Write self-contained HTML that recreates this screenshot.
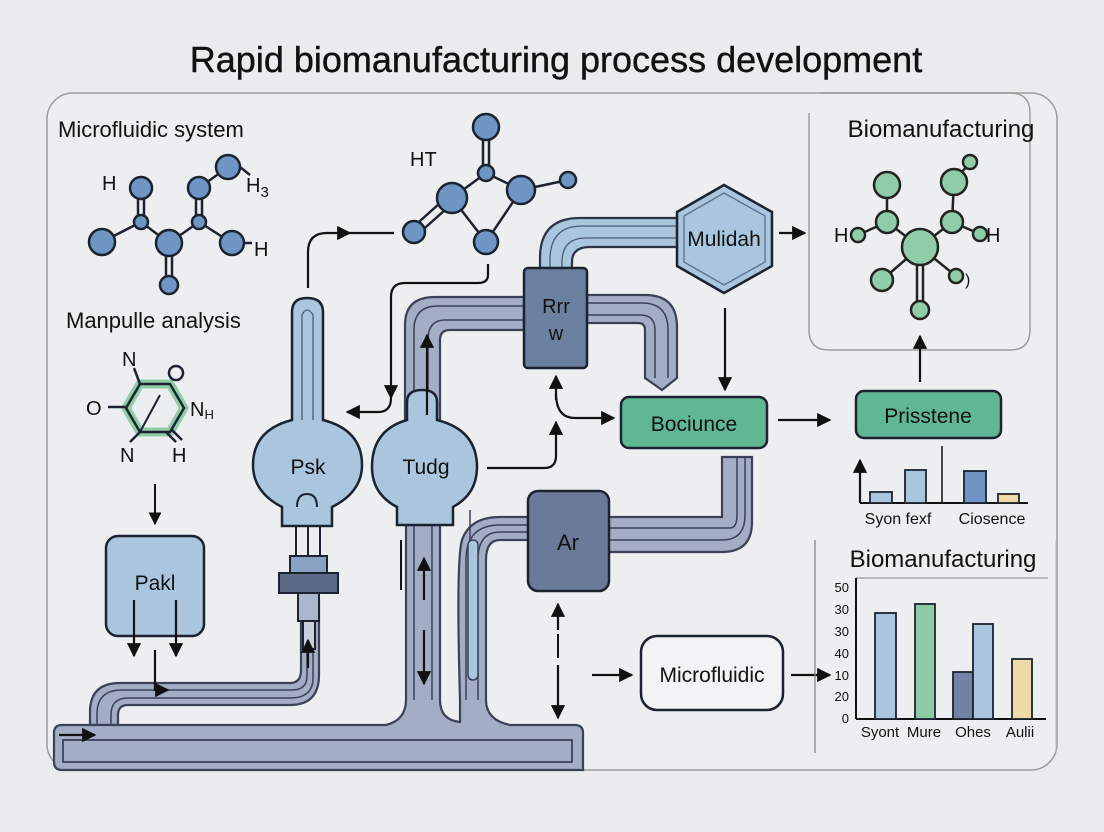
<!DOCTYPE html>
<html><head><meta charset="utf-8"><style>
html,body{margin:0;padding:0;background:#e9ebed;}
svg{display:block;font-family:"Liberation Sans",sans-serif;}
</style></head><body>
<svg width="1104" height="832" viewBox="0 0 1104 832" xmlns="http://www.w3.org/2000/svg">
<defs>
<marker id="ah" viewBox="0 0 10 10" refX="9" refY="5" markerWidth="6.5" markerHeight="6.5" orient="auto"><path d="M0,0 L10,5 L0,10 z" fill="#111"/></marker>
</defs>
<rect width="1104" height="832" fill="#e9ebed"/>
<text x="556" y="72" text-anchor="middle" font-size="36" fill="#111" stroke="#111" stroke-width="0.4">Rapid biomanufacturing process development</text>
<rect x="47" y="93" width="1010" height="677" rx="26" fill="#eceeef" stroke="#9c9c9c" stroke-width="1.5"/>

<!-- right top box -->
<path d="M809,113 V330 Q809,350 829,350 H1010 Q1030,350 1030,330 V113 Q1030,93 1010,93 H820" fill="none" stroke="#9c9c9c" stroke-width="1.5"/>
<text x="941" y="137" text-anchor="middle" font-size="24" fill="#111">Biomanufacturing</text>
<g stroke="#222" stroke-width="2.5">
<line x1="920" y1="247" x2="887" y2="222"/><line x1="920" y1="247" x2="952" y2="222"/>
<line x1="887" y1="222" x2="887" y2="185"/><line x1="952" y1="222" x2="954" y2="182"/>
<line x1="954" y1="182" x2="970" y2="162"/><line x1="887" y1="222" x2="858" y2="235"/>
<line x1="952" y1="222" x2="980" y2="234"/><line x1="920" y1="247" x2="882" y2="280"/>
<line x1="920" y1="247" x2="956" y2="276"/><line x1="917" y1="247" x2="917" y2="310"/><line x1="923" y1="247" x2="923" y2="310"/>
</g>
<g fill="#8fcda9" stroke="#222" stroke-width="2.5">
<circle cx="887" cy="185" r="13"/><circle cx="954" cy="182" r="13"/><circle cx="970" cy="162" r="7"/>
<circle cx="887" cy="222" r="11"/><circle cx="952" cy="222" r="11"/><circle cx="858" cy="235" r="7"/>
<circle cx="980" cy="234" r="7"/><circle cx="882" cy="280" r="11"/><circle cx="956" cy="276" r="7"/>
<circle cx="920" cy="310" r="9"/><circle cx="920" cy="247" r="18"/>
</g>
<text x="834" y="242" font-size="20" fill="#111">H</text>
<text x="986" y="242" font-size="20" fill="#111">H</text>
<text x="965" y="285" font-size="16" fill="#111">)</text>

<!-- left labels -->
<text x="58" y="137" font-size="22" fill="#111">Microfluidic system</text>
<text x="66" y="328" font-size="22" fill="#111">Manpulle analysis</text>

<!-- molecule 1 -->
<g stroke="#1b2330" stroke-width="2.5">
<line x1="138" y1="188" x2="138" y2="222"/><line x1="144" y1="188" x2="144" y2="222"/>
<line x1="196" y1="188" x2="196" y2="222"/><line x1="202" y1="188" x2="202" y2="222"/>
<line x1="141" y1="222" x2="102" y2="242"/><line x1="141" y1="222" x2="169" y2="243"/>
<line x1="199" y1="222" x2="169" y2="243"/><line x1="199" y1="222" x2="232" y2="243"/>
<line x1="199" y1="188" x2="228" y2="167"/><line x1="166" y1="243" x2="166" y2="285"/><line x1="172" y1="243" x2="172" y2="285"/>
<line x1="235" y1="163" x2="250" y2="175"/><line x1="240" y1="243" x2="252" y2="243"/>
</g>
<g fill="#6f95c4" stroke="#1b2330" stroke-width="2.5">
<circle cx="141" cy="188" r="11"/><circle cx="141" cy="222" r="7"/><circle cx="102" cy="242" r="13"/>
<circle cx="169" cy="243" r="13"/><circle cx="169" cy="285" r="9"/><circle cx="199" cy="188" r="11"/>
<circle cx="199" cy="222" r="7"/><circle cx="228" cy="167" r="12"/><circle cx="232" cy="243" r="12"/>
</g>
<text x="102" y="190" font-size="20" fill="#111">H</text>
<text x="246" y="192" font-size="20" fill="#111">H<tspan font-size="15" dy="5">3</tspan></text>
<text x="254" y="256" font-size="20" fill="#111">H</text>

<!-- molecule 2 ring -->
<path d="M140,384 L170,384 L184,408 L170,432 L140,432 L126,408 Z" fill="none" stroke="#8fcda9" stroke-width="9" stroke-linejoin="round"/>
<path d="M140,384 L170,384 L184,408 L170,432 L140,432 L126,408 Z" fill="none" stroke="#1b2330" stroke-width="2.5"/>
<line x1="140" y1="432" x2="160" y2="395" stroke="#1b2330" stroke-width="2"/>
<circle cx="176" cy="373" r="7" fill="#eceeef" stroke="#1b2330" stroke-width="2.5"/>
<g stroke="#1b2330" stroke-width="2.5"><line x1="108" y1="407" x2="126" y2="407"/><line x1="134" y1="368" x2="140" y2="384"/><line x1="140" y1="432" x2="130" y2="442"/><line x1="166" y1="432" x2="176" y2="442"/><line x1="172" y1="430" x2="182" y2="440"/></g>
<text x="122" y="366" font-size="20" fill="#111">N</text>
<text x="86" y="415" font-size="20" fill="#111">O</text>
<text x="190" y="416" font-size="20" fill="#111">N<tspan font-size="13" dy="3">H</tspan></text>
<text x="120" y="462" font-size="20" fill="#111">N</text>
<text x="172" y="462" font-size="20" fill="#111">H</text>

<line x1="155" y1="484" x2="155" y2="524" stroke="#111" stroke-width="2" marker-end="url(#ah)"/>
<rect x="106" y="536" width="98" height="100" rx="12" fill="#a9c6de" stroke="#1b2330" stroke-width="2.5"/>
<text x="155" y="590" text-anchor="middle" font-size="21" fill="#111">Pakl</text>

<!-- HT molecule -->
<text x="410" y="166" font-size="20" fill="#111">HT</text>
<g stroke="#1b2330" stroke-width="2.5">
<line x1="483" y1="127" x2="483" y2="173"/><line x1="489" y1="127" x2="489" y2="173"/>
<line x1="486" y1="173" x2="452" y2="198"/><line x1="486" y1="173" x2="521" y2="190"/>
<line x1="452" y1="198" x2="486" y2="242"/><line x1="521" y1="190" x2="486" y2="242"/>
<line x1="449" y1="195" x2="411" y2="229"/><line x1="455" y1="201" x2="417" y2="235"/>
<line x1="521" y1="190" x2="568" y2="180"/>
</g>
<g fill="#6f95c4" stroke="#1b2330" stroke-width="2.5">
<circle cx="486" cy="127" r="13"/><circle cx="486" cy="173" r="8"/><circle cx="452" cy="198" r="15"/>
<circle cx="521" cy="190" r="14"/><circle cx="414" cy="232" r="11"/><circle cx="486" cy="242" r="12"/><circle cx="568" cy="180" r="8"/>
</g>

<!-- bottom manifold & pipes -->
<g fill="#a3adc4" stroke="#3b4258" stroke-width="2.2">
<path d="M90,725 V712 Q90,683 120,683 H290 Q301,683 301,670 V600 H319 V675 Q319,705 290,705 H128 Q118,705 118,715 V725 Z"/>
<path d="M406,525 H440 V700 Q440,720 460,722 V700 Q456,560 462,540 Q470,517 500,517 H528 V540 H500 Q486,540 486,560 V700 Q486,720 510,725 H575 Q583,725 583,733 V770 H62 Q54,770 54,762 V733 Q54,725 62,725 H386 Q406,720 406,700 Z"/>
<path d="M608,517 H722 V457 H752 V522 Q752,552 722,552 H608 Z"/>
</g>
<rect x="63" y="740" width="509" height="22" fill="#a3adc4" stroke="#3b4258" stroke-width="1.8"/>
<g fill="none" stroke="#3b4258" stroke-width="1.5">
<path d="M97,725 V714 Q97,690 122,690 H292 Q307,690 307,676 V600"/><path d="M111,725 V715 Q111,698 128,698 H290 Q313,698 313,678 V600"/>
<path d="M414,525 V700"/><path d="M432,525 V700"/><path d="M466,700 V560 Q466,525 500,525 H528"/><path d="M478,700 V560 Q478,532 500,532 H528"/>
<path d="M608,528 H730 Q737,528 737,515 V457"/><path d="M608,540 H722 Q745,540 745,515 V457"/>
<path d="M470,510 V680" stroke="#3b4258"/>
</g>
<rect x="468" y="540" width="10" height="140" rx="5" fill="#a9c6de" stroke="#3b4258" stroke-width="1.5"/>

<!-- upper gray pipe from Tudg to Rrr -->
<path d="M405,420 V325 Q405,297 435,297 H524 V330 H450 Q440,330 440,340 V420 Z" fill="#a3adc4" stroke="#3b4258" stroke-width="2.2"/>
<path d="M414,420 V330 Q414,306 438,306 H524 M428,420 V340 Q428,320 445,320 H524" fill="none" stroke="#3b4258" stroke-width="1.5"/>
<!-- right U pipe -->
<path d="M587,295 H645 Q677,295 677,327 V378 L662,390 L645,378 V330 Q645,323 638,323 H587 Z" fill="#a3adc4" stroke="#3b4258" stroke-width="2.2"/>
<path d="M587,303 H642 Q668,303 668,330 V378 M587,315 H640 Q655,315 655,330 V378" fill="none" stroke="#3b4258" stroke-width="1.5"/>
<!-- light blue pipe to Mulidah -->
<path d="M540,268 V258 Q540,218 580,218 H690 V247 H590 Q572,247 572,262 V268 Z" fill="#a9c6de" stroke="#2b3448" stroke-width="2.2"/>
<path d="M550,268 V260 Q550,226 582,226 H690 M562,268 V262 Q562,238 586,238 H690" fill="none" stroke="#4a5a74" stroke-width="1.3"/>
<!-- Mulidah hex -->
<path d="M724,185 L772,212 L772,266 L724,293 L677,266 L677,212 Z" fill="#a9c6de" stroke="#1b2330" stroke-width="2.5"/>
<path d="M724,193 L765,216 L765,262 L724,285 L684,262 L684,216 Z" fill="none" stroke="#5a6f8c" stroke-width="1.3"/>
<text x="724" y="246" text-anchor="middle" font-size="21" fill="#111">Mulidah</text>

<!-- Rrr box -->
<rect x="524" y="268" width="63" height="100" rx="4" fill="#6b7f9f" stroke="#1b2330" stroke-width="2.5"/>
<text x="556" y="313" text-anchor="middle" font-size="20" fill="#111">Rrr</text>
<text x="556" y="340" text-anchor="middle" font-size="20" fill="#111">w</text>
<!-- Ar box -->
<rect x="528" y="491" width="81" height="100" rx="10" fill="#6a7a98" stroke="#1b2330" stroke-width="2.5"/>
<text x="568" y="550" text-anchor="middle" font-size="22" fill="#111">Ar</text>

<!-- flasks -->
<g fill="#a9c6de" stroke="#1b2330" stroke-width="2.5">
<path d="M292,420 V312 Q292,298 307,298 Q323,298 323,312 V420 Q362,430 362,465 Q362,492 332,507 V526 H282 V507 Q253,492 253,465 Q253,430 292,420 Z"/>
<path d="M407,420 V402 Q407,390 422,390 Q437,390 437,402 V420 Q477,430 477,467 Q477,494 453,507 V525 H397 V507 Q372,494 372,467 Q372,430 407,420 Z"/>
</g>
<path d="M302,420 V315 Q307,305 313,315 V420" fill="none" stroke="#4a5a74" stroke-width="1.3"/>
<path d="M297,507 Q297,494 307,494 Q317,494 317,507" fill="none" stroke="#1b2330" stroke-width="2"/>
<text x="308" y="474" text-anchor="middle" font-size="21" fill="#111">Psk</text>
<text x="426" y="474" text-anchor="middle" font-size="21" fill="#111">Tudg</text>
<!-- Psk connector -->
<g stroke="#1b2330" stroke-width="2">
<line x1="296" y1="526" x2="296" y2="556"/><line x1="320" y1="526" x2="320" y2="556"/><line x1="308" y1="526" x2="308" y2="556"/>
<rect x="290" y="556" width="37" height="18" fill="#8aa2c2"/>
<rect x="279" y="573" width="59" height="20" fill="#5c6a86"/>
<rect x="298" y="593" width="21" height="28" fill="#a9b6cc"/>
<rect x="303" y="621" width="12" height="28" fill="#c8d0dc"/>
</g>

<!-- Bociunce / Prisstene / Microfluidic -->
<rect x="621" y="397" width="146" height="51" rx="8" fill="#5fb893" stroke="#1b2330" stroke-width="2.5"/>
<text x="694" y="431" text-anchor="middle" font-size="21" fill="#111">Bociunce</text>
<rect x="856" y="391" width="145" height="47" rx="8" fill="#5fb893" stroke="#1b2330" stroke-width="2.5"/>
<text x="928" y="423" text-anchor="middle" font-size="21" fill="#111">Prisstene</text>
<rect x="641" y="636" width="142" height="74" rx="16" fill="#f2f3f4" stroke="#1b2330" stroke-width="2.5"/>
<text x="712" y="682" text-anchor="middle" font-size="21" fill="#111">Microfluidic</text>

<!-- arrows -->
<g fill="none" stroke="#111" stroke-width="2.2" marker-end="url(#ah)">
<path d="M308,288 V252 Q308,233 327,233 H350"/>
<path d="M488,264 V275 Q488,283 478,283 H405 Q391,283 391,297 V398"/>
<path d="M391,398 Q391,412 378,412 H347"/>
<path d="M487,468 H544 Q556,468 556,456 V422"/>
<path d="M556,400 V376"/>
<path d="M556,393 Q556,418 575,418 H614"/>
<path d="M779,233 H805"/>
<path d="M725,308 V390"/>
<path d="M778,420 H830"/>
<path d="M920,382 V336"/>
<path d="M592,675 H632"/>
<path d="M791,675 H830"/>
<path d="M134,600 V656"/><path d="M176,600 V656"/>
<path d="M59,735 H95"/>
<path d="M155,650 V690 H168"/>
<path d="M427,415 V335"/>
<path d="M308,668 V640"/>
<path d="M424,600 V558"/><path d="M424,630 V684"/>
<path d="M558,630 V604"/><path d="M558,665 V718"/>
<path d="M860,503 V460"/>
</g>
<line x1="401" y1="540" x2="401" y2="590" stroke="#111" stroke-width="2"/>
<line x1="558" y1="634" x2="558" y2="658" stroke="#111" stroke-width="2"/>
<line x1="394" y1="233" x2="350" y2="233" stroke="#111" stroke-width="2.2"/>

<!-- small chart -->
<line x1="860" y1="503" x2="1028" y2="503" stroke="#111" stroke-width="2"/>
<line x1="942" y1="446" x2="942" y2="503" stroke="#111" stroke-width="1.5"/>
<g stroke="#1b2330" stroke-width="1.8">
<rect x="870" y="492" width="22" height="11" fill="#a9c6de"/>
<rect x="905" y="470" width="21" height="33" fill="#a9c6de"/>
<rect x="964" y="471" width="22" height="32" fill="#6f95c4"/>
<rect x="998" y="494" width="21" height="9" fill="#efd9a8"/>
</g>
<text x="898" y="524" text-anchor="middle" font-size="16" fill="#111">Syon fexf</text>
<text x="992" y="524" text-anchor="middle" font-size="16" fill="#111">Ciosence</text>

<!-- big chart -->
<line x1="815" y1="540" x2="815" y2="753" stroke="#888" stroke-width="1.3"/>
<line x1="1056" y1="540" x2="1056" y2="753" stroke="#bbb" stroke-width="1"/>
<text x="943" y="567" text-anchor="middle" font-size="24" fill="#111">Biomanufacturing</text>
<line x1="856" y1="578" x2="1048" y2="578" stroke="#999" stroke-width="1.3"/>
<line x1="856" y1="578" x2="856" y2="719" stroke="#111" stroke-width="2"/>
<line x1="856" y1="719" x2="1046" y2="719" stroke="#111" stroke-width="2"/>
<g font-size="13" fill="#111" text-anchor="end">
<text x="849" y="592">50</text><text x="849" y="614">30</text><text x="849" y="636">30</text><text x="849" y="658">40</text><text x="849" y="680">10</text><text x="849" y="701">20</text><text x="849" y="723">0</text>
</g>
<g stroke="#1b2330" stroke-width="1.8">
<rect x="875" y="613" width="21" height="106" fill="#a9c6de"/>
<rect x="915" y="604" width="20" height="115" fill="#8fcaa6"/>
<rect x="953" y="672" width="20" height="47" fill="#7283a6"/>
<rect x="973" y="624" width="20" height="95" fill="#a9c6de"/>
<rect x="1012" y="659" width="20" height="60" fill="#efd9a8"/>
</g>
<g font-size="15" fill="#111" text-anchor="middle">
<text x="880" y="737">Syont</text><text x="924" y="737">Mure</text><text x="973" y="737">Ohes</text><text x="1020" y="737">Aulii</text>
</g>
</svg>
</body></html>
